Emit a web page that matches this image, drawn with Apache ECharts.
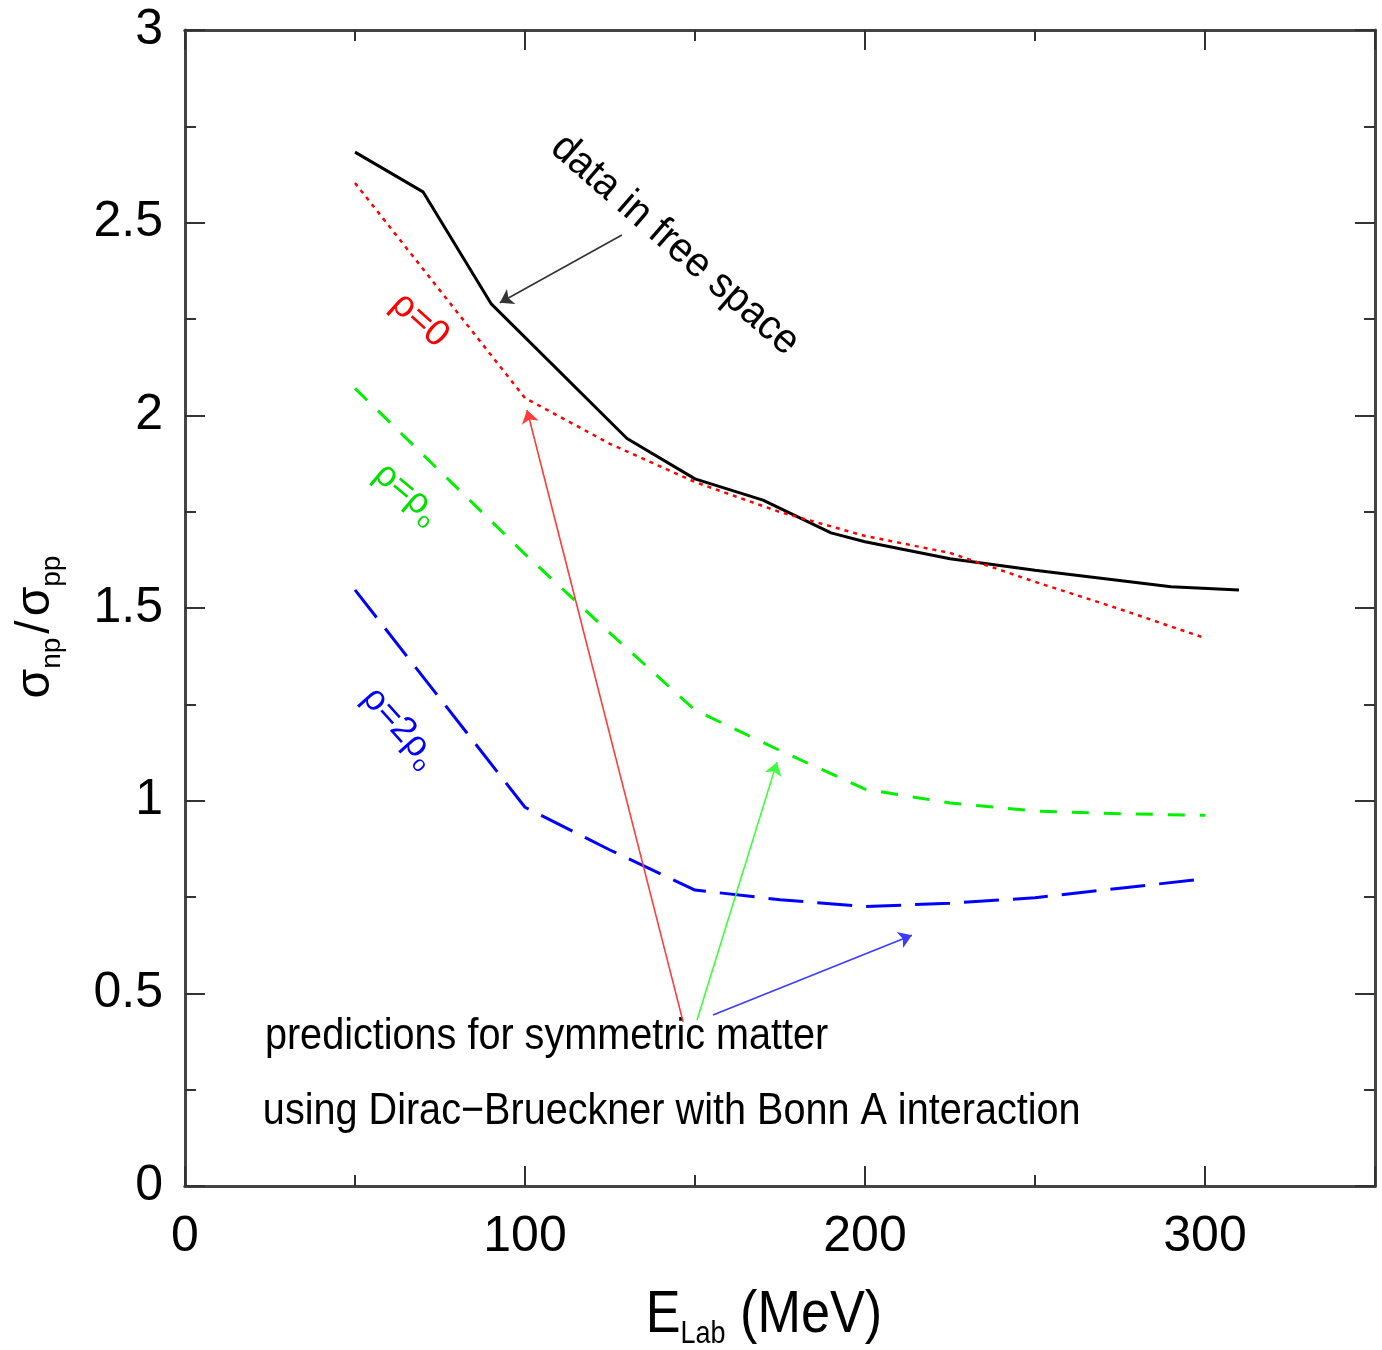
<!DOCTYPE html>
<html>
<head>
<meta charset="utf-8">
<script src="https://cdn.jsdelivr.net/npm/echarts@6/dist/echarts.min.js"></script>
<style>
  html, body { margin: 0; padding: 0; background: #fff; }
  #chart { width: 1382px; height: 1350px; }
</style>
</head>
<body>
<div id="chart"></div>
<script>
// sigma_np / sigma_pp vs E_lab
const freeE = [50, 70, 90, 130, 150, 170, 190, 200, 225, 250, 290, 310];
const freeR = [2.683, 2.58, 2.29, 1.94, 1.835, 1.78, 1.695, 1.672, 1.628, 1.598, 1.555, 1.547];

const rho0E = [50, 100, 125, 150, 175, 200, 225, 250, 275, 300];
const rho0R = [2.603, 2.045, 1.926, 1.827, 1.749, 1.687, 1.643, 1.568, 1.497, 1.422];

const rho1E = [50, 100, 125, 150, 175, 200, 225, 250, 275, 300];
const rho1R = [2.07, 1.64, 1.435, 1.235, 1.13, 1.03, 0.994, 0.973, 0.966, 0.962];

const rho2E = [50, 100, 125, 150, 175, 200, 225, 250, 275, 300];
const rho2R = [1.547, 0.983, 0.872, 0.768, 0.743, 0.725, 0.734, 0.748, 0.773, 0.797];

const xTicks = [0, 100, 200, 300];
const yTicks = [0, 0.5, 1, 1.5, 2, 2.5, 3];

// arrows (data coordinates)
const arrows = [
  { from: [128.5, 2.468], to: [92.6, 2.292], color: '#333333' },
  { from: [146.5, 0.426], to: [100.6, 2.014], color: '#ff3b3b' },
  { from: [150.6, 0.431], to: [174.1, 1.100], color: '#3cff3c' },
  { from: [155.3, 0.444], to: [213.8, 0.651], color: '#3b3bff' }
];

const FONT = '"Liberation Sans", Arial, Helvetica, sans-serif';
const zip = (xs, ys) => xs.map((x, i) => [x, ys[i]]);

const frame = { show: true, onZero: false, lineStyle: { color: '#444', width: 3 } };
const tick = (len) => ({ show: true, inside: true, length: len, lineStyle: { color: '#333', width: 2 } });

function xAx(pos, interval, len, labels) {
  return {
    type: 'value', position: pos, min: 0, max: 350, interval: interval,
    axisLine: frame, axisTick: tick(len),
    axisLabel: {
      show: labels, fontSize: 50, color: '#000', fontFamily: FONT, margin: 26,
      formatter: v => (xTicks.indexOf(v) >= 0 ? String(v) : '')
    },
    splitLine: { show: false }
  };
}
function yAx(pos, labels) {
  return {
    type: 'value', position: pos, min: 0, max: 3, interval: 0.5,
    axisLine: frame, axisTick: tick(20),
    minorTick: { show: true, splitNumber: 2, length: 11, lineStyle: { color: '#333', width: 2 } },
    axisLabel: {
      show: labels, fontSize: 50, color: '#000', fontFamily: FONT, margin: 22,
      formatter: v => (yTicks.indexOf(v) >= 0 ? String(v) : '')
    },
    splitLine: { show: false }
  };
}

const chart = echarts.init(document.getElementById('chart'));

const option = {
  animation: false,
  backgroundColor: '#fff',
  grid: { left: 185, right: 7, top: 30, bottom: 164 },
  xAxis: [
    xAx('bottom', 100, 20, true),
    xAx('top', 100, 20, false),
    xAx('bottom', 50, 11, false),
    xAx('top', 50, 11, false)
  ],
  yAxis: [yAx('left', true), yAx('right', false)],
  series: [
    {
      name: 'data in free space', type: 'line', data: zip(freeE, freeR),
      showSymbol: false, lineStyle: { color: '#000', width: 3 },
      markLine: {
        silent: true, animation: false,
        symbol: ['none', 'arrow'], symbolSize: 13,
        label: { show: false },
        data: arrows.map(a => [
          { coord: a.from, lineStyle: { color: a.color, width: 1.6, type: 'solid' } },
          { coord: a.to }
        ])
      }
    },
    {
      name: 'rho=0', type: 'line', data: zip(rho0E, rho0R),
      showSymbol: false, lineStyle: { color: '#ff0000', width: 2.5, type: [4, 5] }
    },
    {
      name: 'rho=rho0', type: 'line', data: zip(rho1E, rho1R),
      showSymbol: false, lineStyle: { color: '#00f000', width: 3, type: [17, 15] }
    },
    {
      name: 'rho=2rho0', type: 'line', data: zip(rho2E, rho2R),
      showSymbol: false, lineStyle: { color: '#0000ff', width: 3, type: [35, 14] }
    }
  ]
};
chart.setOption(option);

const px = p => chart.convertToPixel({ xAxisIndex: 0, yAxisIndex: 0 }, p);
const deg = d => d * Math.PI / 180;

function note(at, text, opts) {
  const p = px(at);
  return {
    type: 'text', x: p[0], y: p[1], rotation: deg(opts.rot || 0),
    scaleX: opts.scaleX || 1, silent: true,
    style: {
      text: text, fill: opts.color || '#000', fontSize: opts.size || 40, fontFamily: FONT,
      align: opts.align || 'center', verticalAlign: 'middle', rich: opts.rich
    }
  };
}

function subRich(size, color) {
  return {
    t: { fontSize: size, lineHeight: size, verticalAlign: 'top', fill: color, fontFamily: FONT },
    s: { fontSize: Math.round(size * 0.6), lineHeight: Math.round(size * 0.6), padding: [Math.round(size * 0.62), 0, 0, 0], fill: color, fontFamily: FONT }
  };
}

chart.setOption({
  graphic: [
    note([144.1, 2.442], 'data in free space', { rot: -41, size: 42, scaleX: 0.94 }),
    note([69.1, 2.247], 'ρ=0', { rot: -42, size: 37, color: '#ff0000' }),
    note([65.3, 1.798], '{t|ρ=ρ}{s|o}', { rot: -40, size: 36, color: '#00e000', rich: subRich(36, '#00e000') }),
    note([63.2, 1.191], '{t|ρ=2ρ}{s|o}', { rot: -48, size: 36, color: '#0000ff', rich: subRich(36, '#0000ff') }),
    note([23.5, 0.387], 'predictions for symmetric matter', { size: 45, align: 'left', scaleX: 0.88 }),
    note([22.9, 0.192], 'using Dirac\u2212Brueckner with Bonn A interaction', { size: 45, align: 'left', scaleX: 0.88 }),
    {
      // x axis title
      type: 'text', x: 764, y: 1315, scaleX: 0.87, silent: true,
      style: {
        text: '{e|E}{s|Lab}{e| (MeV)}', align: 'center', verticalAlign: 'middle',
        rich: {
          e: { fontSize: 60, lineHeight: 60, verticalAlign: 'top', fill: '#000', fontFamily: FONT },
          s: { fontSize: 31, lineHeight: 31, padding: [38, 0, 0, 0], fill: '#000', fontFamily: FONT }
        }
      }
    },
    {
      // y axis title
      type: 'text', x: 36, y: 627, rotation: Math.PI / 2, silent: true,
      style: {
        text: '{g|σ}{s|np}{k|/}{g|σ}{s|pp}', align: 'center', verticalAlign: 'middle',
        rich: {
          g: { fontSize: 48, lineHeight: 48, verticalAlign: 'top', fill: '#000', fontFamily: FONT },
          k: { fontSize: 48, lineHeight: 48, verticalAlign: 'top', fill: '#000', fontFamily: FONT, padding: [0, 4, 0, 4] },
          s: { fontSize: 28, lineHeight: 28, padding: [32, 0, 0, 0], fill: '#000', fontFamily: FONT }
        }
      }
    }
  ]
});
</script>
</body>
</html>
